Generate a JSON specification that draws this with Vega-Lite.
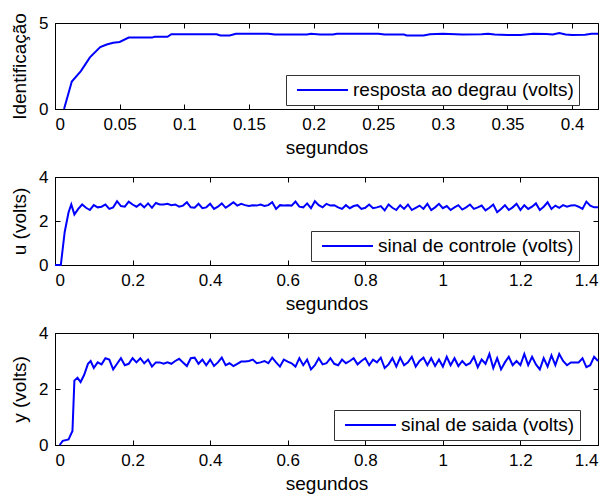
{
  "$schema": "https://vega.github.io/schema/vega-lite/v6.json",
  "background": "white",
  "padding": {"left": 10, "top": 12, "right": 5, "bottom": 5},
  "config": {
    "font": "Liberation Sans",
    "view": {"stroke": "black", "strokeWidth": 1},
    "axis": {
      "grid": false,
      "domainColor": "black",
      "tickColor": "black",
      "labelColor": "black",
      "titleColor": "black",
      "labelFontSize": 17,
      "titleFontSize": 19,
      "titleFontWeight": "normal",
      "tickSize": -5,
      "labelPadding": 12
    },
    "axisX": {"titlePadding": 6},
    "axisY": {"titlePadding": 9},
    "legend": {
      "orient": "none",
      "strokeColor": "#333333",
      "fillColor": "white",
      "padding": 5,
      "clipHeight": 20,
      "symbolType": "stroke",
      "symbolSize": 2601,
      "symbolStrokeWidth": 2,
      "symbolOffset": 5,
      "labelFontSize": 19,
      "labelColor": "black",
      "labelLimit": 0,
      "labelOffset": 4,
      "title": null
    }
  },
  "spacing": 68,
  "bounds": "flush",
  "resolve": {"scale": {"color": "independent"}, "legend": {"color": "independent"}},
  "vconcat": [
    {
      "width": 543,
      "height": 86,
      "data": {"values": [
        {"t": 0.007, "v": 0}, {"t": 0.013, "v": 1.6}, {"t": 0.020, "v": 2.2}, {"t": 0.027, "v": 3.0},
        {"t": 0.035, "v": 3.6}, {"t": 0.040, "v": 3.75}, {"t": 0.045, "v": 3.85}, {"t": 0.050, "v": 3.9},
        {"t": 0.057, "v": 4.15}, {"t": 0.065, "v": 4.15}, {"t": 0.075, "v": 4.15}, {"t": 0.077, "v": 4.2},
        {"t": 0.087, "v": 4.2}, {"t": 0.090, "v": 4.35}, {"t": 0.100, "v": 4.35}, {"t": 0.125, "v": 4.35},
        {"t": 0.128, "v": 4.28}, {"t": 0.135, "v": 4.28}, {"t": 0.140, "v": 4.38}, {"t": 0.165, "v": 4.38},
        {"t": 0.170, "v": 4.33}, {"t": 0.195, "v": 4.33}, {"t": 0.198, "v": 4.38}, {"t": 0.205, "v": 4.33},
        {"t": 0.215, "v": 4.33}, {"t": 0.218, "v": 4.38}, {"t": 0.250, "v": 4.38}, {"t": 0.255, "v": 4.33},
        {"t": 0.270, "v": 4.33}, {"t": 0.272, "v": 4.28}, {"t": 0.285, "v": 4.28}, {"t": 0.290, "v": 4.35},
        {"t": 0.300, "v": 4.38}, {"t": 0.315, "v": 4.33}, {"t": 0.330, "v": 4.35}, {"t": 0.335, "v": 4.38},
        {"t": 0.340, "v": 4.33}, {"t": 0.350, "v": 4.30}, {"t": 0.360, "v": 4.30}, {"t": 0.370, "v": 4.38},
        {"t": 0.380, "v": 4.36}, {"t": 0.385, "v": 4.33}, {"t": 0.390, "v": 4.42}, {"t": 0.395, "v": 4.33},
        {"t": 0.400, "v": 4.30}, {"t": 0.410, "v": 4.32}, {"t": 0.415, "v": 4.38}, {"t": 0.420, "v": 4.38}
      ]},
      "layer": [
        {
          "mark": {"type": "line", "strokeWidth": 2},
          "encoding": {
            "x": {"field": "t", "type": "quantitative", "scale": {"domain": [0, 0.42], "nice": false},
                  "axis": {"title": "segundos", "values": [0, 0.05, 0.1, 0.15, 0.2, 0.25, 0.3, 0.35, 0.4], "format": "~g"}},
            "y": {"field": "v", "type": "quantitative", "scale": {"domain": [0, 5], "nice": false},
                  "axis": {"title": "Identificação", "values": [0, 5]}},
            "color": {"datum": "resposta ao degrau (volts)", "scale": {"range": ["#0000ff"]},
                      "legend": {"legendX": 231, "legendY": 52}}
          }
        },
        {
          "mark": {"type": "line", "opacity": 0},
          "encoding": {
            "x": {"field": "t", "type": "quantitative", "axis": {"orient": "top", "labels": false, "title": null, "domain": false, "values": [0, 0.05, 0.1, 0.15, 0.2, 0.25, 0.3, 0.35, 0.4]}},
            "y": {"field": "v", "type": "quantitative", "axis": {"orient": "right", "labels": false, "title": null, "domain": false, "values": [0, 5]}}
          }
        }
      ],
      "resolve": {"axis": {"x": "independent", "y": "independent"}}
    },
    {
      "width": 543,
      "height": 88,
      "data": {"values": [
        {"t": 0, "v": 0}, {"t": 0.015, "v": 0}, {"t": 0.025, "v": 1.5}, {"t": 0.035, "v": 2.4}, {"t": 0.042, "v": 2.75},
        {"t": 0.05, "v": 2.3}, {"t": 0.06, "v": 2.55}, {"t": 0.07, "v": 2.75}, {"t": 0.08, "v": 2.6}, {"t": 0.09, "v": 2.5},
        {"t": 0.10, "v": 2.72}, {"t": 0.11, "v": 2.62}, {"t": 0.12, "v": 2.65}, {"t": 0.13, "v": 2.75}, {"t": 0.14, "v": 2.55},
        {"t": 0.15, "v": 2.62}, {"t": 0.16, "v": 2.9}, {"t": 0.17, "v": 2.68}, {"t": 0.18, "v": 2.65}, {"t": 0.19, "v": 2.88},
        {"t": 0.20, "v": 2.75}, {"t": 0.21, "v": 2.65}, {"t": 0.22, "v": 2.78}, {"t": 0.23, "v": 2.62}, {"t": 0.24, "v": 2.8},
        {"t": 0.25, "v": 2.6}, {"t": 0.26, "v": 2.82}, {"t": 0.27, "v": 2.75}, {"t": 0.28, "v": 2.75}, {"t": 0.29, "v": 2.78},
        {"t": 0.30, "v": 2.72}, {"t": 0.31, "v": 2.75}, {"t": 0.32, "v": 2.65}, {"t": 0.33, "v": 2.7}, {"t": 0.34, "v": 2.85},
        {"t": 0.35, "v": 2.62}, {"t": 0.36, "v": 2.6}, {"t": 0.37, "v": 2.78}, {"t": 0.38, "v": 2.58}, {"t": 0.39, "v": 2.62},
        {"t": 0.40, "v": 2.78}, {"t": 0.41, "v": 2.55}, {"t": 0.42, "v": 2.65}, {"t": 0.43, "v": 2.8}, {"t": 0.44, "v": 2.6},
        {"t": 0.45, "v": 2.72}, {"t": 0.46, "v": 2.85}, {"t": 0.47, "v": 2.7}, {"t": 0.48, "v": 2.78}, {"t": 0.49, "v": 2.72},
        {"t": 0.50, "v": 2.68}, {"t": 0.51, "v": 2.72}, {"t": 0.52, "v": 2.7}, {"t": 0.53, "v": 2.75}, {"t": 0.54, "v": 2.68},
        {"t": 0.55, "v": 2.72}, {"t": 0.56, "v": 2.85}, {"t": 0.57, "v": 2.55}, {"t": 0.58, "v": 2.72}, {"t": 0.59, "v": 2.7},
        {"t": 0.60, "v": 2.72}, {"t": 0.61, "v": 2.7}, {"t": 0.62, "v": 2.88}, {"t": 0.63, "v": 2.65}, {"t": 0.64, "v": 2.62},
        {"t": 0.65, "v": 2.8}, {"t": 0.66, "v": 2.58}, {"t": 0.67, "v": 2.9}, {"t": 0.68, "v": 2.72}, {"t": 0.69, "v": 2.62},
        {"t": 0.70, "v": 2.78}, {"t": 0.71, "v": 2.7}, {"t": 0.72, "v": 2.72}, {"t": 0.73, "v": 2.62}, {"t": 0.74, "v": 2.55},
        {"t": 0.75, "v": 2.72}, {"t": 0.76, "v": 2.58}, {"t": 0.77, "v": 2.68}, {"t": 0.78, "v": 2.72}, {"t": 0.79, "v": 2.55},
        {"t": 0.80, "v": 2.6}, {"t": 0.81, "v": 2.75}, {"t": 0.82, "v": 2.58}, {"t": 0.83, "v": 2.62}, {"t": 0.84, "v": 2.68},
        {"t": 0.85, "v": 2.48}, {"t": 0.86, "v": 2.75}, {"t": 0.87, "v": 2.6}, {"t": 0.88, "v": 2.5}, {"t": 0.89, "v": 2.72},
        {"t": 0.90, "v": 2.55}, {"t": 0.91, "v": 2.75}, {"t": 0.92, "v": 2.5}, {"t": 0.93, "v": 2.6}, {"t": 0.94, "v": 2.7},
        {"t": 0.95, "v": 2.55}, {"t": 0.96, "v": 2.78}, {"t": 0.97, "v": 2.5}, {"t": 0.98, "v": 2.62}, {"t": 0.99, "v": 2.78},
        {"t": 1.00, "v": 2.58}, {"t": 1.01, "v": 2.68}, {"t": 1.02, "v": 2.5}, {"t": 1.03, "v": 2.62}, {"t": 1.04, "v": 2.72},
        {"t": 1.05, "v": 2.52}, {"t": 1.06, "v": 2.62}, {"t": 1.07, "v": 2.75}, {"t": 1.08, "v": 2.55}, {"t": 1.09, "v": 2.62},
        {"t": 1.10, "v": 2.7}, {"t": 1.11, "v": 2.48}, {"t": 1.12, "v": 2.6}, {"t": 1.13, "v": 2.75}, {"t": 1.14, "v": 2.4},
        {"t": 1.15, "v": 2.55}, {"t": 1.16, "v": 2.72}, {"t": 1.17, "v": 2.5}, {"t": 1.18, "v": 2.62}, {"t": 1.19, "v": 2.78},
        {"t": 1.20, "v": 2.5}, {"t": 1.21, "v": 2.72}, {"t": 1.22, "v": 2.55}, {"t": 1.23, "v": 2.65}, {"t": 1.24, "v": 2.8},
        {"t": 1.25, "v": 2.5}, {"t": 1.26, "v": 2.65}, {"t": 1.27, "v": 2.85}, {"t": 1.28, "v": 2.55}, {"t": 1.29, "v": 2.7},
        {"t": 1.30, "v": 2.6}, {"t": 1.31, "v": 2.72}, {"t": 1.32, "v": 2.65}, {"t": 1.33, "v": 2.7}, {"t": 1.34, "v": 2.72},
        {"t": 1.35, "v": 2.65}, {"t": 1.36, "v": 2.55}, {"t": 1.37, "v": 2.88}, {"t": 1.38, "v": 2.7}, {"t": 1.39, "v": 2.62},
        {"t": 1.40, "v": 2.62}
      ]},
      "layer": [
        {
          "mark": {"type": "line", "strokeWidth": 2},
          "encoding": {
            "x": {"field": "t", "type": "quantitative", "scale": {"domain": [0, 1.4], "nice": false},
                  "axis": {"title": "segundos", "values": [0, 0.2, 0.4, 0.6, 0.8, 1, 1.2, 1.4], "format": "~g"}},
            "y": {"field": "v", "type": "quantitative", "scale": {"domain": [0, 4], "nice": false},
                  "axis": {"title": "u (volts)", "values": [0, 2, 4]}},
            "color": {"datum": "sinal de controle (volts)", "scale": {"range": ["#0000ff"]},
                      "legend": {"legendX": 256, "legendY": 54}}
          }
        },
        {
          "mark": {"type": "line", "opacity": 0},
          "encoding": {
            "x": {"field": "t", "type": "quantitative", "axis": {"orient": "top", "labels": false, "title": null, "domain": false, "values": [0, 0.2, 0.4, 0.6, 0.8, 1, 1.2, 1.4]}},
            "y": {"field": "v", "type": "quantitative", "axis": {"orient": "right", "labels": false, "title": null, "domain": false, "values": [0, 2, 4]}}
          }
        }
      ],
      "resolve": {"axis": {"x": "independent", "y": "independent"}}
    },
    {
      "width": 543,
      "height": 112,
      "data": {"values": [
        {"t": 0.012, "v": 0}, {"t": 0.02, "v": 0.15}, {"t": 0.035, "v": 0.2}, {"t": 0.045, "v": 0.5}, {"t": 0.05, "v": 2.3},
        {"t": 0.058, "v": 2.4}, {"t": 0.066, "v": 2.25}, {"t": 0.075, "v": 2.5}, {"t": 0.085, "v": 2.9}, {"t": 0.092, "v": 3.0},
        {"t": 0.10, "v": 2.75}, {"t": 0.11, "v": 2.95}, {"t": 0.12, "v": 2.88}, {"t": 0.13, "v": 3.1}, {"t": 0.14, "v": 3.05},
        {"t": 0.15, "v": 2.7}, {"t": 0.16, "v": 2.9}, {"t": 0.17, "v": 3.1}, {"t": 0.18, "v": 2.85}, {"t": 0.19, "v": 2.9},
        {"t": 0.20, "v": 3.1}, {"t": 0.21, "v": 2.95}, {"t": 0.22, "v": 3.1}, {"t": 0.23, "v": 2.92}, {"t": 0.24, "v": 3.05},
        {"t": 0.25, "v": 2.8}, {"t": 0.26, "v": 2.95}, {"t": 0.27, "v": 2.95}, {"t": 0.28, "v": 2.9}, {"t": 0.29, "v": 2.95},
        {"t": 0.30, "v": 2.9}, {"t": 0.31, "v": 3.0}, {"t": 0.32, "v": 3.08}, {"t": 0.33, "v": 2.95}, {"t": 0.34, "v": 2.82},
        {"t": 0.35, "v": 3.1}, {"t": 0.36, "v": 3.12}, {"t": 0.37, "v": 2.9}, {"t": 0.38, "v": 3.05}, {"t": 0.39, "v": 2.85},
        {"t": 0.40, "v": 3.05}, {"t": 0.41, "v": 2.82}, {"t": 0.42, "v": 2.95}, {"t": 0.43, "v": 3.12}, {"t": 0.44, "v": 2.85},
        {"t": 0.45, "v": 2.92}, {"t": 0.46, "v": 2.82}, {"t": 0.47, "v": 2.9}, {"t": 0.48, "v": 2.98}, {"t": 0.49, "v": 2.98},
        {"t": 0.50, "v": 3.0}, {"t": 0.51, "v": 3.05}, {"t": 0.52, "v": 2.92}, {"t": 0.53, "v": 2.95}, {"t": 0.54, "v": 3.0},
        {"t": 0.55, "v": 2.92}, {"t": 0.56, "v": 3.12}, {"t": 0.57, "v": 2.95}, {"t": 0.58, "v": 2.8}, {"t": 0.59, "v": 3.05},
        {"t": 0.60, "v": 2.98}, {"t": 0.61, "v": 2.92}, {"t": 0.62, "v": 2.8}, {"t": 0.63, "v": 3.1}, {"t": 0.64, "v": 2.85},
        {"t": 0.65, "v": 3.05}, {"t": 0.66, "v": 2.7}, {"t": 0.67, "v": 2.85}, {"t": 0.68, "v": 3.1}, {"t": 0.69, "v": 2.88},
        {"t": 0.70, "v": 2.92}, {"t": 0.71, "v": 3.1}, {"t": 0.72, "v": 2.9}, {"t": 0.73, "v": 2.85}, {"t": 0.74, "v": 3.05},
        {"t": 0.75, "v": 2.92}, {"t": 0.76, "v": 3.0}, {"t": 0.77, "v": 3.1}, {"t": 0.78, "v": 2.88}, {"t": 0.79, "v": 3.0},
        {"t": 0.80, "v": 3.1}, {"t": 0.81, "v": 2.85}, {"t": 0.82, "v": 3.05}, {"t": 0.83, "v": 2.95}, {"t": 0.84, "v": 3.12},
        {"t": 0.85, "v": 2.75}, {"t": 0.86, "v": 2.88}, {"t": 0.87, "v": 3.1}, {"t": 0.88, "v": 2.8}, {"t": 0.89, "v": 3.12},
        {"t": 0.90, "v": 2.85}, {"t": 0.91, "v": 2.95}, {"t": 0.92, "v": 3.15}, {"t": 0.93, "v": 2.8}, {"t": 0.94, "v": 3.0},
        {"t": 0.95, "v": 3.12}, {"t": 0.96, "v": 2.85}, {"t": 0.97, "v": 3.1}, {"t": 0.98, "v": 2.82}, {"t": 0.99, "v": 3.05},
        {"t": 1.00, "v": 2.8}, {"t": 1.01, "v": 3.15}, {"t": 1.02, "v": 2.85}, {"t": 1.03, "v": 3.1}, {"t": 1.04, "v": 2.82},
        {"t": 1.05, "v": 3.0}, {"t": 1.06, "v": 2.85}, {"t": 1.07, "v": 2.92}, {"t": 1.08, "v": 3.15}, {"t": 1.09, "v": 2.78},
        {"t": 1.10, "v": 3.05}, {"t": 1.11, "v": 2.9}, {"t": 1.12, "v": 3.25}, {"t": 1.13, "v": 2.75}, {"t": 1.14, "v": 3.1},
        {"t": 1.15, "v": 2.7}, {"t": 1.16, "v": 2.95}, {"t": 1.17, "v": 3.15}, {"t": 1.18, "v": 2.85}, {"t": 1.19, "v": 3.0},
        {"t": 1.20, "v": 2.85}, {"t": 1.21, "v": 3.25}, {"t": 1.22, "v": 2.85}, {"t": 1.23, "v": 3.15}, {"t": 1.24, "v": 2.88},
        {"t": 1.25, "v": 2.7}, {"t": 1.26, "v": 3.1}, {"t": 1.27, "v": 2.8}, {"t": 1.28, "v": 3.2}, {"t": 1.29, "v": 2.85},
        {"t": 1.30, "v": 3.25}, {"t": 1.31, "v": 3.0}, {"t": 1.32, "v": 2.85}, {"t": 1.33, "v": 2.95}, {"t": 1.34, "v": 2.95},
        {"t": 1.35, "v": 2.95}, {"t": 1.36, "v": 3.1}, {"t": 1.37, "v": 2.78}, {"t": 1.38, "v": 2.85}, {"t": 1.39, "v": 3.15},
        {"t": 1.40, "v": 3.0}
      ]},
      "layer": [
        {
          "mark": {"type": "line", "strokeWidth": 2},
          "encoding": {
            "x": {"field": "t", "type": "quantitative", "scale": {"domain": [0, 1.4], "nice": false},
                  "axis": {"title": "segundos", "values": [0, 0.2, 0.4, 0.6, 0.8, 1, 1.2, 1.4], "format": "~g"}},
            "y": {"field": "v", "type": "quantitative", "scale": {"domain": [0, 4], "nice": false},
                  "axis": {"title": "y (volts)", "values": [0, 2, 4]}},
            "color": {"datum": "sinal de saida (volts)", "scale": {"range": ["#0000ff"]},
                      "legend": {"legendX": 279, "legendY": 77}}
          }
        },
        {
          "mark": {"type": "line", "opacity": 0},
          "encoding": {
            "x": {"field": "t", "type": "quantitative", "axis": {"orient": "top", "labels": false, "title": null, "domain": false, "values": [0, 0.2, 0.4, 0.6, 0.8, 1, 1.2, 1.4]}},
            "y": {"field": "v", "type": "quantitative", "axis": {"orient": "right", "labels": false, "title": null, "domain": false, "values": [0, 2, 4]}}
          }
        }
      ],
      "resolve": {"axis": {"x": "independent", "y": "independent"}}
    }
  ]
}
